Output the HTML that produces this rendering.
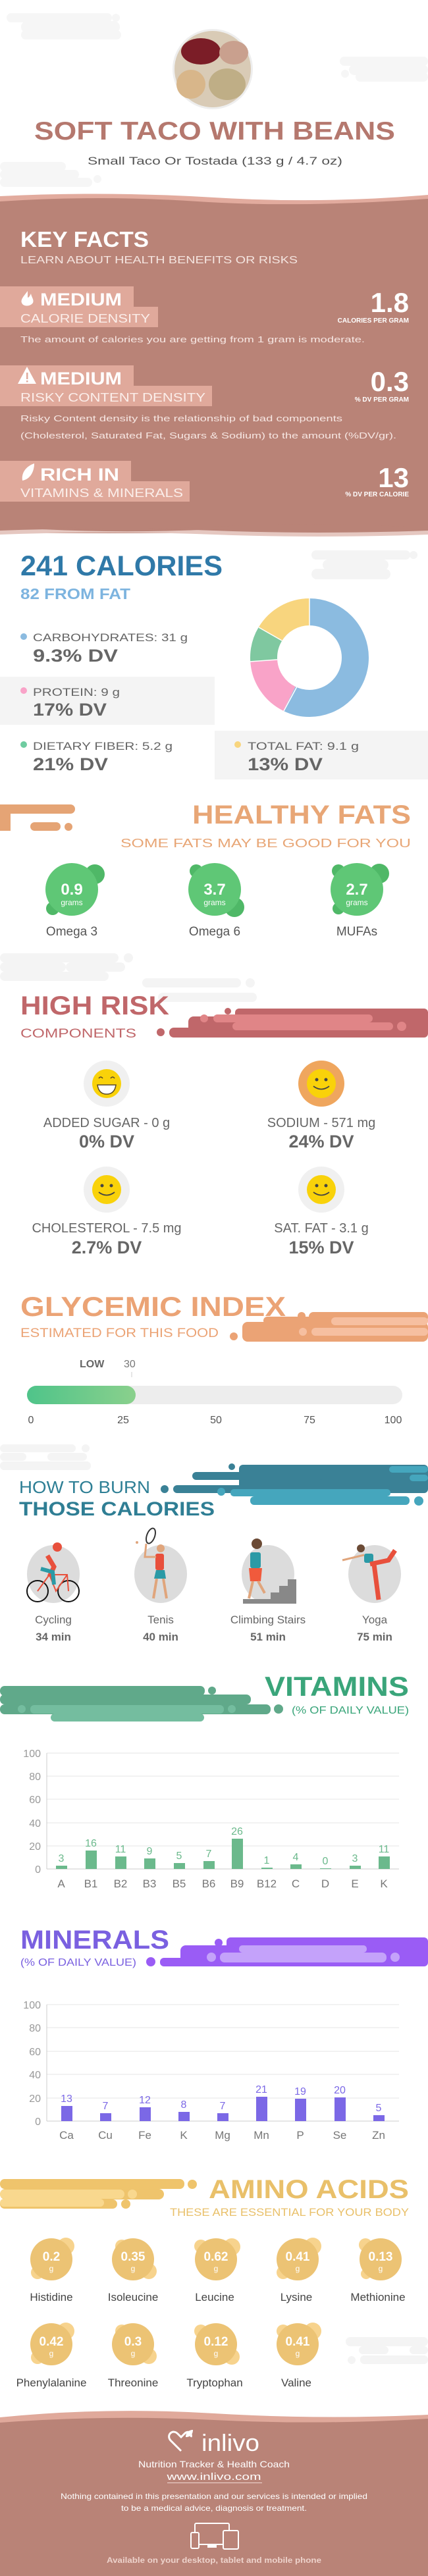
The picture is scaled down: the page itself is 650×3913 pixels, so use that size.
<!DOCTYPE html>
<html><head><meta charset="utf-8"><style>
html,body{margin:0;padding:0;background:#fff;}
svg{display:block;}
text{font-family:"Liberation Sans",sans-serif;}
</style></head><body>
<svg width="650" height="3913" viewBox="0 0 650 3913" xmlns="http://www.w3.org/2000/svg">
<rect width="650" height="3913" fill="#fff"/>
<!-- top clouds -->
<g fill="#f6f6f6">
<rect x="10" y="20" width="160" height="14" rx="7"/><circle cx="176" cy="27" r="6"/>
<rect x="32" y="32" width="150" height="18" rx="9"/>
<rect x="32" y="46" width="152" height="14" rx="7"/>
<rect x="516" y="86" width="134" height="14" rx="7"/>
<rect x="530" y="98" width="120" height="16" rx="8"/><circle cx="524" cy="112" r="6"/>
<rect x="540" y="110" width="110" height="14" rx="7"/>
<rect x="0" y="246" width="100" height="14" rx="7"/>
<rect x="0" y="258" width="120" height="14" rx="7"/><circle cx="148" cy="272" r="6"/>
<rect x="0" y="270" width="140" height="14" rx="7"/>
</g>
<!-- beans image -->
<circle cx="323" cy="105" r="61" fill="#eee"/>
<circle cx="323" cy="105" r="58" fill="#d9cbb6"/>
<ellipse cx="305" cy="78" rx="30" ry="20" fill="#7b1d27"/>
<ellipse cx="355" cy="80" rx="22" ry="18" fill="#c9a08e"/>
<ellipse cx="290" cy="128" rx="22" ry="22" fill="#d8b68a"/>
<ellipse cx="345" cy="128" rx="28" ry="24" fill="#bfae86"/>
<text x="52" y="212" font-size="39" font-weight="bold" fill="#b5786e" textLength="548" lengthAdjust="spacingAndGlyphs">SOFT TACO WITH BEANS</text>
<text x="133" y="250" font-size="17" fill="#555" textLength="387" lengthAdjust="spacingAndGlyphs">Small Taco Or Tostada (133 g / 4.7 oz)</text>
<!-- key facts section -->
<path d="M0 298 Q160 290 325 300 T650 296 L650 330 L0 330Z" fill="#e2ab9e"/>
<path d="M0 306 Q150 296 300 306 T650 302 L650 810 L0 810Z" fill="#b98377"/>
<text x="31" y="375" font-size="33" font-weight="bold" fill="#fff" textLength="195" lengthAdjust="spacingAndGlyphs">KEY FACTS</text>
<text x="31" y="400" font-size="16" fill="#f4e4df" textLength="421" lengthAdjust="spacingAndGlyphs">LEARN ABOUT HEALTH BENEFITS OR RISKS</text>
<g fill="#e0a99b">
<rect x="0" y="435" width="203" height="32"/><rect x="0" y="466" width="240" height="31"/>
<rect x="0" y="555" width="203" height="32"/><rect x="0" y="586" width="322" height="31"/>
<rect x="0" y="700" width="199" height="32"/><rect x="0" y="731" width="288" height="31"/>
</g>
<!-- icons -->
<path d="M42 442 C36 450 31 455 33 460 C35 466 46 466 50 460 C52 455 48 452 47 446 C45 450 44 452 42 452 Z" fill="#fff"/>
<path d="M41 557 L55 583 L27 583Z" fill="#fff"/><rect x="40" y="566" width="2.5" height="10" fill="#e0a99b"/><rect x="40" y="578" width="2.5" height="2.5" fill="#e0a99b"/>
<path d="M34 730 C32 718 40 708 52 704 C52 716 46 728 34 730Z" fill="#fff"/>
<g fill="#fff" font-weight="bold">
<text x="61" y="464" font-size="27" textLength="124" lengthAdjust="spacingAndGlyphs">MEDIUM</text>
<text x="61" y="584" font-size="27" textLength="124" lengthAdjust="spacingAndGlyphs">MEDIUM</text>
<text x="61" y="730" font-size="27" textLength="120" lengthAdjust="spacingAndGlyphs">RICH  IN</text>
<text x="621" y="474" font-size="42" text-anchor="end">1.8</text>
<text x="621" y="594" font-size="42" text-anchor="end">0.3</text>
<text x="621" y="740" font-size="42" text-anchor="end">13</text>
<text x="621" y="490" font-size="10" text-anchor="end">CALORIES PER GRAM</text>
<text x="621" y="610" font-size="10" text-anchor="end">% DV PER GRAM</text>
<text x="621" y="754" font-size="10" text-anchor="end">% DV PER CALORIE</text>
</g>
<g fill="#fbeeea" font-size="18">
<text x="31" y="490" textLength="197" lengthAdjust="spacingAndGlyphs">CALORIE DENSITY</text>
<text x="31" y="610" textLength="281" lengthAdjust="spacingAndGlyphs">RISKY CONTENT DENSITY</text>
<text x="31" y="755" textLength="247" lengthAdjust="spacingAndGlyphs">VITAMINS &amp; MINERALS</text>
</g>
<g fill="#f6e6e2" font-size="13">
<text x="31" y="520" textLength="523" lengthAdjust="spacingAndGlyphs">The amount of calories you are getting from 1 gram is moderate.</text>
<text x="31" y="640" textLength="489" lengthAdjust="spacingAndGlyphs">Risky Content density is the relationship of bad components</text>
<text x="31" y="666" textLength="571" lengthAdjust="spacingAndGlyphs">(Cholesterol, Saturated Fat, Sugars &amp; Sodium) to the amount (%DV/gr).</text>
</g>
<path d="M0 800 Q160 812 325 804 T650 806 L650 812 Q480 818 325 812 T0 812Z" fill="#e5c7c0"/>
<path d="M0 796 Q160 808 325 800 T650 802 L650 806 Q480 812 325 806 T0 806Z" fill="#b98377"/>
<!-- calories section -->
<g fill="#f4f4f4">
<rect x="473" y="836" width="150" height="14" rx="7"/><circle cx="628" cy="843" r="6"/>
<rect x="490" y="850" width="100" height="16" rx="8"/>
<rect x="473" y="864" width="120" height="16" rx="8"/>
</g>
<text x="31" y="874" font-size="43" font-weight="bold" fill="#2f79a8" textLength="307" lengthAdjust="spacingAndGlyphs">241 CALORIES</text>
<text x="31" y="910" font-size="23" font-weight="bold" fill="#7db4df" textLength="167" lengthAdjust="spacingAndGlyphs">82 FROM FAT</text>
<rect x="0" y="1028" width="326" height="73" fill="#f4f4f4"/>
<rect x="326" y="1110" width="324" height="74" fill="#f4f4f4"/>
<circle cx="36" cy="967" r="5" fill="#8bbbe0"/>
<circle cx="36" cy="1049" r="5" fill="#f9a3c8"/>
<circle cx="36" cy="1131" r="5" fill="#6fcca0"/>
<circle cx="361" cy="1131" r="5" fill="#f8d57e"/>
<g fill="#666" font-size="17">
<text x="50" y="974" textLength="235" lengthAdjust="spacingAndGlyphs">CARBOHYDRATES: 31 g</text>
<text x="50" y="1057" textLength="132" lengthAdjust="spacingAndGlyphs">PROTEIN: 9 g</text>
<text x="50" y="1139" textLength="212" lengthAdjust="spacingAndGlyphs">DIETARY FIBER: 5.2 g</text>
<text x="376" y="1139" textLength="169" lengthAdjust="spacingAndGlyphs">TOTAL FAT: 9.1 g</text>
</g>
<g fill="#666" font-size="27" font-weight="bold">
<text x="50" y="1005" textLength="129" lengthAdjust="spacingAndGlyphs">9.3% DV</text>
<text x="50" y="1087" textLength="112" lengthAdjust="spacingAndGlyphs">17% DV</text>
<text x="50" y="1170" textLength="114" lengthAdjust="spacingAndGlyphs">21% DV</text>
<text x="376" y="1170" textLength="114" lengthAdjust="spacingAndGlyphs">13% DV</text>
</g>
<g transform="rotate(-90 470 999)" fill="none" stroke-width="41">
<circle cx="470" cy="999" r="69.5" stroke="#8bbbe0" stroke-dasharray="249.9 436.7" stroke-dashoffset="0"/>
<circle cx="470" cy="999" r="69.5" stroke="#f9a3c8" stroke-dasharray="72.8 436.7" stroke-dashoffset="-249.9"/>
<circle cx="470" cy="999" r="69.5" stroke="#7fc8a0" stroke-dasharray="42.5 436.7" stroke-dashoffset="-322.7"/>
<circle cx="470" cy="999" r="69.5" stroke="#f8d57e" stroke-dasharray="71.5 436.7" stroke-dashoffset="-365.2"/>
</g>
<g stroke="#fff" stroke-width="1.5">
<line x1="470" y1="909" x2="470" y2="950"/>
<line x1="431" y1="1080" x2="451" y2="1043"/>
<line x1="380" y1="1005" x2="421" y2="1002"/>
<line x1="393" y1="953" x2="428" y2="973"/>
</g>
<!-- healthy fats -->
<g fill="#e5a475">
<rect x="0" y="1222" width="114" height="14" rx="7"/>
<rect x="0" y="1222" width="16" height="40"/>
<rect x="0" y="1249" width="10" height="13"/>
<rect x="46" y="1249" width="46" height="13" rx="6.5"/>
<circle cx="104" cy="1256" r="6"/>
</g>
<text x="624" y="1251" font-size="40" font-weight="bold" fill="#e8a676" text-anchor="end" textLength="332" lengthAdjust="spacingAndGlyphs">HEALTHY FATS</text>
<text x="624" y="1287" font-size="18" fill="#e8a676" text-anchor="end" textLength="441" lengthAdjust="spacingAndGlyphs">SOME FATS MAY BE GOOD FOR YOU</text>
<g fill="#4fb867">
<circle cx="144" cy="1328" r="15"/><circle cx="80" cy="1380" r="10"/>
<circle cx="298" cy="1323" r="10"/><circle cx="356" cy="1378" r="15"/>
<circle cx="514" cy="1323" r="10"/><circle cx="576" cy="1327" r="15"/><circle cx="514" cy="1380" r="9"/>
</g>
<g fill="#5fc776">
<ellipse cx="109" cy="1351" rx="40" ry="40"/>
<ellipse cx="326" cy="1351" rx="40" ry="40"/>
<ellipse cx="542" cy="1351" rx="40" ry="40"/>
</g>
<g fill="#fff" text-anchor="middle">
<text x="109" y="1359" font-size="24" font-weight="bold">0.9</text>
<text x="326" y="1359" font-size="24" font-weight="bold">3.7</text>
<text x="542" y="1359" font-size="24" font-weight="bold">2.7</text>
<text x="109" y="1375" font-size="12">grams</text>
<text x="326" y="1375" font-size="12">grams</text>
<text x="542" y="1375" font-size="12">grams</text>
</g>
<g fill="#555" text-anchor="middle" font-size="19">
<text x="109" y="1421">Omega 3</text>
<text x="326" y="1421">Omega 6</text>
<text x="542" y="1421">MUFAs</text>
</g>
<g fill="#f4f4f4">
<rect x="0" y="1448" width="180" height="14" rx="7"/><circle cx="195" cy="1455" r="7"/>
<rect x="0" y="1462" width="100" height="14" rx="7"/><rect x="100" y="1462" width="90" height="14" rx="7"/>
<rect x="0" y="1476" width="165" height="14" rx="7"/>
<rect x="216" y="1486" width="150" height="14" rx="7"/><circle cx="380" cy="1493" r="7"/>
<rect x="240" y="1508" width="150" height="14" rx="7"/>
</g>
<!-- high risk -->
<g fill="#c0676a">
<rect x="357" y="1532" width="293" height="44" rx="6"/>
<rect x="286" y="1544" width="200" height="32" rx="8"/>
<rect x="257" y="1561" width="150" height="15" rx="7"/>
<circle cx="244" cy="1568" r="6"/><circle cx="346" cy="1536" r="5"/>
</g>
<g fill="#e08587">
<rect x="324" y="1541" width="242" height="12" rx="6"/>
<rect x="353" y="1553" width="244" height="12" rx="6"/>
<circle cx="610" cy="1559" r="7"/><circle cx="310" cy="1547" r="6"/>
</g>
<text x="31" y="1541" font-size="40" font-weight="bold" fill="#c0676a" textLength="226" lengthAdjust="spacingAndGlyphs">HIGH RISK</text>
<text x="31" y="1576" font-size="19" fill="#c0676a" textLength="176" lengthAdjust="spacingAndGlyphs">COMPONENTS</text>
<!-- smileys -->
<ellipse cx="162" cy="1646" rx="35" ry="35" fill="#f0f0f0"/>
<ellipse cx="488" cy="1646" rx="35" ry="35" fill="#efa65e"/>
<ellipse cx="162" cy="1807" rx="35" ry="35" fill="#f0f0f0"/>
<ellipse cx="488" cy="1807" rx="35" ry="35" fill="#f0f0f0"/>
<g fill="#f9d20a"><circle cx="162" cy="1646" r="22"/><circle cx="488" cy="1646" r="22"/><circle cx="162" cy="1807" r="22"/><circle cx="488" cy="1807" r="22"/></g>
<path d="M148 1648 L176 1648 Q174 1662 162 1662 Q150 1662 148 1648Z" fill="#fff" stroke="#5a4a2a" stroke-width="1.5"/>
<path d="M150 1638 q3 -4 6 0 M168 1638 q3 -4 6 0" stroke="#5a4a2a" stroke-width="1.5" fill="none"/>
<g fill="#444"><circle cx="481" cy="1640" r="2.5"/><circle cx="495" cy="1640" r="2.5"/><circle cx="155" cy="1801" r="2.5"/><circle cx="169" cy="1801" r="2.5"/><circle cx="481" cy="1801" r="2.5"/><circle cx="495" cy="1801" r="2.5"/></g>
<g stroke="#444" stroke-width="1.8" fill="none"><path d="M476 1650 q12 9 24 0"/><path d="M150 1811 q12 9 24 0"/><path d="M476 1811 q12 9 24 0"/></g>
<g fill="#666" text-anchor="middle" font-size="20">
<text x="162" y="1712">ADDED SUGAR - 0 g</text>
<text x="488" y="1712">SODIUM - 571 mg</text>
<text x="162" y="1872">CHOLESTEROL - 7.5 mg</text>
<text x="488" y="1872">SAT. FAT - 3.1 g</text>
</g>
<g fill="#666" text-anchor="middle" font-size="27" font-weight="bold">
<text x="162" y="1743">0% DV</text>
<text x="488" y="1743">24% DV</text>
<text x="162" y="1904">2.7% DV</text>
<text x="488" y="1904">15% DV</text>
</g>
<!-- glycemic -->
<g fill="#eba375">
<rect x="469" y="1993" width="181" height="15" rx="7"/><circle cx="458" cy="1999" r="6"/>
<rect x="400" y="2000" width="250" height="12" rx="6"/>
<rect x="368" y="2008" width="282" height="30" rx="8"/><circle cx="355" cy="2030" r="6"/>
</g>
<g fill="#f6bfa0">
<rect x="503" y="2001" width="147" height="12" rx="6"/>
<rect x="473" y="2017" width="177" height="12" rx="6"/><circle cx="460" cy="2023" r="6"/>
</g>
<text x="31" y="1999" font-size="42" font-weight="bold" fill="#eba375" textLength="403" lengthAdjust="spacingAndGlyphs">GLYCEMIC INDEX</text>
<text x="31" y="2031" font-size="19" fill="#eba375" textLength="301" lengthAdjust="spacingAndGlyphs">ESTIMATED FOR THIS FOOD</text>
<text x="121" y="2077" font-size="16" font-weight="bold" fill="#666">LOW</text>
<text x="188" y="2077" font-size="16" fill="#777">30</text>
<rect x="199.5" y="2084" width="1" height="8" fill="#ccc"/>
<defs><linearGradient id="gg" x1="0" x2="1"><stop offset="0" stop-color="#4fc48a"/><stop offset="1" stop-color="#8ad08c"/></linearGradient></defs>
<rect x="41" y="2105" width="570" height="28" rx="14" fill="#ededed"/>
<rect x="41" y="2105" width="165" height="28" rx="14" fill="url(#gg)"/>
<g fill="#555" font-size="16" text-anchor="middle">
<text x="47" y="2162">0</text><text x="187" y="2162">25</text><text x="328" y="2162">50</text><text x="470" y="2162">75</text><text x="597" y="2162">100</text>
</g>
<g fill="#f4f4f4">
<rect x="0" y="2194" width="115" height="12" rx="6"/><circle cx="130" cy="2200" r="6"/>
<rect x="0" y="2207" width="40" height="12" rx="6"/><rect x="72" y="2207" width="60" height="12" rx="6"/>
<rect x="0" y="2220" width="138" height="13" rx="6"/>
</g>
<!-- burn -->
<g fill="#3a8196">
<rect x="363" y="2225" width="287" height="43" rx="6"/>
<rect x="292" y="2236" width="200" height="12" rx="6"/>
<rect x="263" y="2256" width="200" height="12" rx="6"/><circle cx="250" cy="2262" r="6"/>
<circle cx="352" cy="2228" r="5"/>
</g>
<g fill="#45a6bd">
<rect x="591" y="2227" width="59" height="10" rx="5"/><rect x="622" y="2240" width="28" height="10" rx="5"/>
<rect x="350" y="2262" width="243" height="11" rx="5"/>
<rect x="380" y="2273" width="242" height="13" rx="6"/><circle cx="636" cy="2280" r="7"/><circle cx="336" cy="2266" r="6"/>
</g>
<text x="29" y="2268" font-size="26" fill="#2e7f95" textLength="199" lengthAdjust="spacingAndGlyphs">HOW TO BURN</text>
<text x="29" y="2302" font-size="30" font-weight="bold" fill="#2f7e94" textLength="297" lengthAdjust="spacingAndGlyphs">THOSE CALORIES</text>
<g fill="#dcdcdc">
<ellipse cx="81" cy="2391" rx="40" ry="44"/><ellipse cx="244" cy="2391" rx="40" ry="44"/><ellipse cx="407" cy="2391" rx="40" ry="44"/><ellipse cx="569" cy="2391" rx="40" ry="44"/>
</g>
<!-- cycling -->
<g fill="none" stroke="#111" stroke-width="2"><circle cx="57" cy="2417" r="16"/><circle cx="104" cy="2417" r="16"/></g>
<path d="M57 2417 L75 2392 L102 2392 L104 2417 M75 2392 L85 2417 L102 2392" stroke="#e8503c" stroke-width="2" fill="none"/>
<path d="M72 2363 L82 2380 L75 2395" stroke="#e8503c" stroke-width="7" fill="none"/>
<circle cx="87" cy="2350" r="7" fill="#e8503c"/>
<path d="M62 2383 L80 2388 L82 2407" stroke="#2b9aa6" stroke-width="6" fill="none"/>
<!-- tenis -->
<rect x="236" y="2360" width="13" height="25" rx="3" fill="#e8503c"/>
<path d="M237 2385 L250 2385 L252 2398 L234 2398Z" fill="#2b9aa6"/>
<path d="M238 2398 L233 2428 M248 2398 L253 2428" stroke="#e0a57c" stroke-width="4"/>
<circle cx="244" cy="2352" r="6" fill="#e0a57c"/>
<path d="M237 2365 L220 2365 L222 2345" stroke="#e0a57c" stroke-width="3" fill="none"/>
<ellipse cx="229" cy="2333" rx="6" ry="12" fill="none" stroke="#333" stroke-width="2" transform="rotate(20 229 2333)"/>
<circle cx="208" cy="2343" r="2" fill="#e0a57c"/>
<!-- stairs -->
<path d="M369 2436 L450 2436 L450 2399 L437 2399 L437 2409 L424 2409 L424 2419 L411 2419 L411 2429 L369 2429Z" fill="#888"/>
<rect x="380" y="2358" width="16" height="24" rx="3" fill="#2b9aa6"/>
<path d="M378 2382 L398 2382 L396 2402 L380 2402Z" fill="#f05a3c"/>
<path d="M384 2402 L378 2428 M392 2402 L402 2420" stroke="#e0a57c" stroke-width="4"/>
<circle cx="390" cy="2345" r="8" fill="#6b4a35"/>
<!-- yoga -->
<rect x="553" y="2360" width="14" height="14" rx="3" fill="#2b9aa6"/>
<path d="M562 2376 L590 2370 L600 2355" stroke="#e8503c" stroke-width="7" fill="none"/>
<path d="M568 2376 L575 2430" stroke="#e8503c" stroke-width="7"/>
<path d="M553 2362 L520 2370" stroke="#e0a57c" stroke-width="3"/>
<circle cx="548" cy="2352" r="6" fill="#6b4a35"/>
<g fill="#666" text-anchor="middle" font-size="17">
<text x="81" y="2466">Cycling</text><text x="244" y="2466">Tenis</text><text x="407" y="2466">Climbing Stairs</text><text x="569" y="2466">Yoga</text>
</g>
<g fill="#666" text-anchor="middle" font-size="17" font-weight="bold">
<text x="81" y="2492">34 min</text><text x="244" y="2492">40 min</text><text x="407" y="2492">51 min</text><text x="569" y="2492">75 min</text>
</g>
<!-- vitamins -->
<g fill="#60a98a">
<rect x="0" y="2561" width="311" height="15" rx="7"/><circle cx="322" cy="2568" r="6"/>
<rect x="0" y="2574" width="381" height="15" rx="7"/>
<rect x="0" y="2589" width="411" height="15" rx="7"/><circle cx="423" cy="2596" r="7"/>
</g>
<g fill="#74bd9f">
<rect x="46" y="2590" width="294" height="13" rx="6"/><circle cx="33" cy="2596" r="6"/><circle cx="352" cy="2596" r="6"/>
<rect x="77" y="2603" width="233" height="12" rx="6"/>
</g>
<text x="621" y="2576" font-size="42" font-weight="bold" fill="#3aa57a" text-anchor="end" textLength="219" lengthAdjust="spacingAndGlyphs">VITAMINS</text>
<text x="621" y="2603" font-size="16" fill="#3aa57a" text-anchor="end" textLength="178" lengthAdjust="spacingAndGlyphs">(% OF DAILY VALUE)</text>
<g stroke="#e6e6e6" stroke-width="1">
<line x1="71" y1="2663" x2="606" y2="2663"/><line x1="71" y1="2698" x2="606" y2="2698"/><line x1="71" y1="2733" x2="606" y2="2733"/><line x1="71" y1="2769" x2="606" y2="2769"/><line x1="71" y1="2804" x2="606" y2="2804"/>
</g>
<line x1="71" y1="2663" x2="71" y2="2839" stroke="#ccc"/><line x1="71" y1="2839" x2="606" y2="2839" stroke="#ccc"/>
<g fill="#999" font-size="16" text-anchor="end">
<text x="62" y="2669">100</text><text x="62" y="2704">80</text><text x="62" y="2739">60</text><text x="62" y="2775">40</text><text x="62" y="2810">20</text><text x="62" y="2845">0</text>
</g>
<g fill="#6bb98c">
<rect x="85" y="2834" width="17" height="5"/><rect x="130" y="2811" width="17" height="28"/><rect x="175" y="2820" width="17" height="19"/><rect x="219" y="2823" width="17" height="16"/><rect x="264" y="2830" width="17" height="9"/><rect x="309" y="2827" width="17" height="12"/><rect x="352" y="2793" width="17" height="46"/><rect x="397" y="2837" width="17" height="2"/><rect x="441" y="2832" width="17" height="7"/><rect x="486" y="2838" width="17" height="1"/><rect x="531" y="2834" width="17" height="5"/><rect x="575" y="2820" width="17" height="19"/>
</g>
<g fill="#6bb98c" font-size="16" text-anchor="middle">
<text x="93" y="2828">3</text><text x="138" y="2805">16</text><text x="183" y="2814">11</text><text x="227" y="2817">9</text><text x="272" y="2824">5</text><text x="317" y="2821">7</text><text x="360" y="2787">26</text><text x="405" y="2831">1</text><text x="449" y="2826">4</text><text x="494" y="2832">0</text><text x="539" y="2828">3</text><text x="583" y="2814">11</text>
</g>
<g fill="#777" font-size="17" text-anchor="middle">
<text x="93" y="2867">A</text><text x="138" y="2867">B1</text><text x="183" y="2867">B2</text><text x="227" y="2867">B3</text><text x="272" y="2867">B5</text><text x="317" y="2867">B6</text><text x="360" y="2867">B9</text><text x="405" y="2867">B12</text><text x="449" y="2867">C</text><text x="494" y="2867">D</text><text x="539" y="2867">E</text><text x="583" y="2867">K</text>
</g>
<!-- minerals -->
<g fill="#9a5cf5">
<rect x="344" y="2943" width="306" height="44" rx="6"/>
<rect x="274" y="2955" width="200" height="32" rx="8"/>
<rect x="243" y="2974" width="150" height="13" rx="6"/>
<circle cx="332" cy="2951" r="6"/><circle cx="229" cy="2980" r="7"/>
</g>
<g fill="#c4a2fa">
<rect x="363" y="2955" width="194" height="11" rx="5"/>
<rect x="334" y="2966" width="253" height="15" rx="7"/>
<circle cx="321" cy="2973" r="7"/><circle cx="600" cy="2973" r="7"/>
</g>
<text x="31" y="2960" font-size="40" font-weight="bold" fill="#7a60e0" textLength="226" lengthAdjust="spacingAndGlyphs">MINERALS</text>
<text x="31" y="2986" font-size="16" fill="#7a60e0" textLength="176" lengthAdjust="spacingAndGlyphs">(% OF DAILY VALUE)</text>
<g stroke="#e6e6e6" stroke-width="1">
<line x1="71" y1="3045" x2="606" y2="3045"/><line x1="71" y1="3080" x2="606" y2="3080"/><line x1="71" y1="3116" x2="606" y2="3116"/><line x1="71" y1="3151" x2="606" y2="3151"/><line x1="71" y1="3187" x2="606" y2="3187"/>
</g>
<line x1="71" y1="3045" x2="71" y2="3222" stroke="#ccc"/><line x1="71" y1="3222" x2="606" y2="3222" stroke="#ccc"/>
<g fill="#999" font-size="16" text-anchor="end">
<text x="62" y="3051">100</text><text x="62" y="3086">80</text><text x="62" y="3122">60</text><text x="62" y="3157">40</text><text x="62" y="3193">20</text><text x="62" y="3228">0</text>
</g>
<g fill="#7b68e6">
<rect x="93" y="3199" width="17" height="23"/><rect x="152" y="3210" width="17" height="12"/><rect x="212" y="3201" width="17" height="21"/><rect x="271" y="3208" width="17" height="14"/><rect x="330" y="3210" width="17" height="12"/><rect x="389" y="3185" width="17" height="37"/><rect x="448" y="3188" width="17" height="34"/><rect x="508" y="3186" width="17" height="36"/><rect x="567" y="3213" width="17" height="9"/>
</g>
<g fill="#7b68e6" font-size="16" text-anchor="middle">
<text x="101" y="3193">13</text><text x="160" y="3204">7</text><text x="220" y="3195">12</text><text x="279" y="3202">8</text><text x="338" y="3204">7</text><text x="397" y="3179">21</text><text x="456" y="3182">19</text><text x="516" y="3180">20</text><text x="575" y="3207">5</text>
</g>
<g fill="#777" font-size="17" text-anchor="middle">
<text x="101" y="3249">Ca</text><text x="160" y="3249">Cu</text><text x="220" y="3249">Fe</text><text x="279" y="3249">K</text><text x="338" y="3249">Mg</text><text x="397" y="3249">Mn</text><text x="456" y="3249">P</text><text x="516" y="3249">Se</text><text x="575" y="3249">Zn</text>
</g>
<!-- amino -->
<g fill="#efc46c">
<rect x="0" y="3310" width="280" height="15" rx="7"/><circle cx="292" cy="3318" r="7"/>
<rect x="0" y="3325" width="249" height="16" rx="8"/>
<rect x="0" y="3341" width="178" height="14" rx="7"/><circle cx="191" cy="3348" r="7"/>
</g>
<g fill="#f9d88e">
<rect x="0" y="3326" width="189" height="14" rx="7"/><circle cx="201" cy="3333" r="7"/>
<rect x="0" y="3340" width="158" height="12" rx="6"/>
</g>
<text x="621" y="3339" font-size="40" font-weight="bold" fill="#e9c06a" text-anchor="end" textLength="304" lengthAdjust="spacingAndGlyphs">AMINO ACIDS</text>
<text x="621" y="3366" font-size="17" fill="#e9c06a" text-anchor="end" textLength="363" lengthAdjust="spacingAndGlyphs">THESE ARE ESSENTIAL FOR YOUR BODY</text>
<g fill="#f7d38d">
<circle cx="100" cy="3412" r="13"/><circle cx="57" cy="3452" r="10"/>
<circle cx="185" cy="3412" r="10"/><circle cx="226" cy="3450" r="12"/>
<circle cx="305" cy="3412" r="10"/><circle cx="352" cy="3413" r="13"/>
<circle cx="430" cy="3452" r="10"/><circle cx="475" cy="3412" r="13"/>
<circle cx="555" cy="3410" r="10"/><circle cx="556" cy="3454" r="8"/>
<circle cx="100" cy="3541" r="13"/><circle cx="57" cy="3581" r="10"/>
<circle cx="185" cy="3541" r="10"/><circle cx="226" cy="3579" r="12"/>
<circle cx="305" cy="3541" r="10"/><circle cx="352" cy="3580" r="12"/>
<circle cx="430" cy="3541" r="10"/><circle cx="475" cy="3541" r="13"/>
</g>
<g fill="#ecc374">
<circle cx="78" cy="3432" r="32"/><circle cx="202" cy="3432" r="32"/><circle cx="328" cy="3432" r="32"/><circle cx="452" cy="3432" r="32"/><circle cx="578" cy="3432" r="32"/>
<circle cx="78" cy="3561" r="32"/><circle cx="202" cy="3561" r="32"/><circle cx="328" cy="3561" r="32"/><circle cx="452" cy="3561" r="32"/>
</g>
<g fill="#fff" text-anchor="middle" font-size="19" font-weight="bold">
<text x="78" y="3434">0.2</text><text x="202" y="3434">0.35</text><text x="328" y="3434">0.62</text><text x="452" y="3434">0.41</text><text x="578" y="3434">0.13</text>
<text x="78" y="3563">0.42</text><text x="202" y="3563">0.3</text><text x="328" y="3563">0.12</text><text x="452" y="3563">0.41</text>
</g>
<g fill="#fff" text-anchor="middle" font-size="12">
<text x="78" y="3450">g</text><text x="202" y="3450">g</text><text x="328" y="3450">g</text><text x="452" y="3450">g</text><text x="578" y="3450">g</text>
<text x="78" y="3579">g</text><text x="202" y="3579">g</text><text x="328" y="3579">g</text><text x="452" y="3579">g</text>
</g>
<g fill="#444" text-anchor="middle" font-size="17">
<text x="78" y="3495">Histidine</text><text x="202" y="3495">Isoleucine</text><text x="326" y="3495">Leucine</text><text x="450" y="3495">Lysine</text><text x="574" y="3495">Methionine</text>
<text x="78" y="3625">Phenylalanine</text><text x="202" y="3625">Threonine</text><text x="326" y="3625">Tryptophan</text><text x="450" y="3625">Valine</text>
</g>
<g fill="#f4f4f4">
<rect x="525" y="3550" width="125" height="14" rx="7"/>
<rect x="545" y="3564" width="45" height="12" rx="6"/><rect x="622" y="3564" width="28" height="12" rx="6"/>
<circle cx="534" cy="3585" r="6"/><rect x="547" y="3578" width="103" height="13" rx="6"/>
</g>
<!-- footer -->
<path d="M0 3672 Q160 3656 325 3666 T650 3668 L650 3700 L0 3700Z" fill="#e0a99b"/>
<path d="M0 3680 Q160 3668 325 3676 T650 3674 L650 3913 L0 3913Z" fill="#b98377"/>
<path d="M275 3723 L259 3707 C252 3699 262 3689 270 3697 L275 3702 L280 3697 C286 3691 292 3696 290 3702" fill="none" stroke="#fff" stroke-width="3"/>
<path d="M282 3702 C282 3694 288 3691 293 3691 C293 3698 289 3702 282 3702Z" fill="#fff"/>
<text x="306" y="3723" font-size="36" fill="#fff" textLength="88" lengthAdjust="spacingAndGlyphs">inlivo</text>
<text x="325" y="3748" font-size="14" fill="#fff" text-anchor="middle" textLength="230" lengthAdjust="spacingAndGlyphs">Nutrition Tracker &amp; Health Coach</text>
<text x="325" y="3767" font-size="15" fill="#fff" text-anchor="middle" textLength="143" lengthAdjust="spacingAndGlyphs">www.inlivo.com</text>
<rect x="254" y="3771" width="144" height="1" fill="#f0d8d2"/>
<text x="325" y="3796" font-size="12" fill="#fff" text-anchor="middle" textLength="466" lengthAdjust="spacingAndGlyphs">Nothing contained in this presentation and our services is intended or implied</text>
<text x="325" y="3814" font-size="12" fill="#fff" text-anchor="middle" textLength="282" lengthAdjust="spacingAndGlyphs">to be a medical advice, diagnosis or treatment.</text>
<g fill="none" stroke="#fff" stroke-width="2">
<rect x="296" y="3833" width="52" height="32" rx="2"/>
<rect x="290" y="3847" width="12" height="24" rx="2" fill="#b98377"/>
<rect x="339" y="3844" width="23" height="28" rx="2" fill="#b98377"/>
</g>
<rect x="315" y="3865" width="14" height="5" fill="#fff"/>
<text x="325" y="3893" font-size="12" font-weight="bold" fill="#edd2cb" text-anchor="middle" textLength="326" lengthAdjust="spacingAndGlyphs">Available on your desktop, tablet and mobile phone</text>
</svg>
</body></html>
